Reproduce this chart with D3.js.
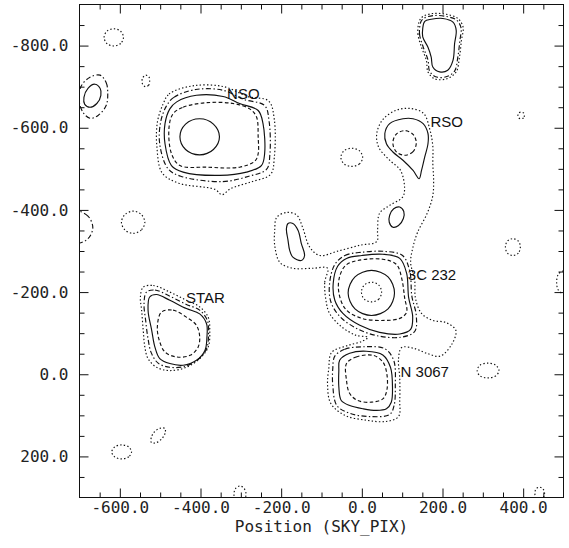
<!DOCTYPE html>
<html>
<head>
<meta charset="utf-8">
<script src="https://cdn.jsdelivr.net/npm/d3@7"></script>
<style>
  html, body { margin: 0; background: #fff; }
</style>
</head>
<body>
<svg id="chart" width="569" height="548"></svg>
<script>
// Sky-pixel extent of the map and its axis labelling
const xDomain = [-700, 500];
const yDomain = [-900, 300];
const xTickLabels = [-600, -400, -200, 0, 200, 400];
const yTickLabels = [-800, -600, -400, -200, 0, 200];
const xTitle = "Position (SKY_PIX)";

// Contour rings, [x, y] in sky pixels. Level 1 is the lowest contour.
// Large connected level-1 contour: RSO, filament, 3C 232 and N 3067
const bridgeL1 = [[-89,-180],[-92,-224],[-85,-258],[-122,-258],[-171,-258],[-203,-272],[-216,-314],[-216,-350],[-211,-382],[-186,-394],[-161,-387],[-147,-358],[-129,-309],[-104,-289],[-62,-299],[-5,-314],[37,-323],[39,-350],[44,-392],[69,-411],[101,-431],[106,-452],[96,-496],[69,-521],[42,-552],[37,-586],[52,-620],[84,-642],[119,-647],[153,-635],[168,-598],[176,-555],[176,-513],[178,-472],[176,-435],[163,-394],[138,-345],[126,-306],[121,-272],[131,-229],[133,-185],[148,-148],[176,-131],[208,-126],[233,-107],[223,-73],[194,-44],[161,-51],[129,-63],[99,-65],[91,-39],[94,10],[94,64],[91,103],[59,115],[12,112],[-42,100],[-77,71],[-85,27],[-82,-14],[-75,-53],[-35,-70],[0,-80],[15,-90],[-15,-95],[-52,-117],[-80,-148]];

// 3C 232
const c232L2 = [[-67,-267],[-42,-289],[0,-297],[57,-299],[101,-289],[119,-250],[124,-190],[135,-143],[131,-104],[96,-90],[42,-93],[-10,-110],[-55,-141],[-77,-177],[-80,-221]];
const c232L3 = [[-60,-263],[-38,-282],[0,-289],[52,-292],[94,-282],[111,-246],[116,-187],[126,-141],[121,-109],[94,-98],[44,-102],[-5,-119],[-47,-148],[-67,-180],[-71,-221]];
const c232L4 = [[-40,-265],[-10,-277],[52,-280],[86,-267],[99,-233],[106,-187],[111,-151],[94,-136],[57,-131],[0,-136],[-40,-158],[-57,-199],[-55,-238]];
const c232L5 = [[81,-198],[65,-159],[24,-143],[-17,-159],[-34,-198],[-17,-237],[24,-253],[65,-237]];
const c232L6 = [[49,-200],[42,-183],[24,-176],[6,-183],[-1,-200],[6,-217],[24,-224],[42,-217]];

// Knots along the filament
const knotWestL3 = [[-183,-367],[-171,-367],[-158,-350],[-150,-318],[-142,-289],[-150,-277],[-171,-285],[-179,-302],[-183,-326],[-187,-354]];
const knotNorthL3 = [[94,-407],[104,-396],[103,-379],[91,-362],[77,-358],[68,-370],[69,-387],[79,-403]];

// RSO
const rsoL3 = [[102,-622],[69,-610],[57,-586],[61,-561],[77,-541],[102,-521],[127,-496],[142,-476],[148,-496],[156,-529],[164,-561],[164,-586],[152,-610],[127,-622]];
const rsoL4 = [[135,-563],[127,-542],[106,-533],[85,-542],[77,-563],[85,-584],[106,-593],[127,-584]];

// N 3067
const n3067L2 = [[-67,-44],[-42,-61],[7,-67],[57,-62],[79,-34],[83,27],[80,76],[69,98],[20,103],[-30,95],[-62,76],[-72,27],[-72,-14]];
const n3067L3 = [[-55,-34],[-30,-51],[11,-56],[52,-47],[71,-17],[76,31],[73,68],[61,84],[36,88],[3,84],[-30,76],[-51,64],[-57,31],[-57,-9]];
const n3067L4 = [[-38,-26],[-14,-42],[28,-46],[52,-30],[62,-1],[62,39],[52,60],[24,68],[-10,64],[-30,47],[-38,15]];

// NSO
const nsoL1 = [[-493,-657],[-478,-682],[-419,-702],[-342,-700],[-283,-676],[-231,-665],[-217,-620],[-217,-528],[-226,-487],[-275,-468],[-325,-452],[-347,-437],[-364,-450],[-454,-465],[-495,-490],[-508,-552],[-507,-613]];
const nsoL2 = [[-485,-652],[-466,-674],[-412,-693],[-343,-691],[-293,-669],[-241,-654],[-230,-616],[-228,-535],[-236,-499],[-280,-482],[-345,-469],[-449,-482],[-481,-501],[-501,-560],[-499,-613]];
const nsoL3 = [[-476,-646],[-459,-663],[-410,-679],[-344,-676],[-303,-659],[-257,-642],[-245,-610],[-241,-537],[-249,-508],[-286,-492],[-352,-484],[-443,-492],[-472,-508],[-488,-561],[-488,-610]];
const nsoL4 = [[-468,-634],[-443,-650],[-385,-661],[-319,-659],[-278,-646],[-261,-626],[-257,-577],[-257,-537],[-265,-519],[-303,-504],[-385,-504],[-451,-508],[-472,-537],[-478,-601]];
const nsoL5 = [[-353,-578],[-368,-547],[-402,-534],[-437,-547],[-451,-578],[-437,-609],[-402,-622],[-368,-609]];

// STAR
const starL1 = [[-542,-212],[-517,-216],[-476,-200],[-435,-180],[-402,-164],[-381,-139],[-377,-107],[-381,-66],[-402,-38],[-435,-17],[-476,-9],[-509,-17],[-530,-38],[-538,-66],[-542,-107],[-546,-156],[-549,-188]];
const starL2 = [[-534,-200],[-513,-205],[-476,-190],[-435,-170],[-402,-156],[-383,-131],[-380,-99],[-385,-62],[-406,-36],[-439,-19],[-476,-17],[-505,-27],[-522,-52],[-530,-86],[-536,-131],[-540,-172]];
const starL3 = [[-526,-188],[-509,-194],[-476,-180],[-435,-160],[-402,-147],[-385,-123],[-384,-91],[-389,-58],[-410,-34],[-443,-22],[-476,-26],[-501,-38],[-513,-66],[-521,-107],[-530,-156]];
const starL4 = [[-497,-151],[-468,-156],[-435,-139],[-410,-119],[-402,-91],[-406,-66],[-426,-46],[-459,-42],[-488,-54],[-502,-82],[-507,-115]];

// Northern source at the top edge
const northL1 = [[143,-861],[139,-829],[148,-796],[160,-764],[164,-736],[181,-719],[210,-719],[234,-736],[242,-772],[247,-813],[251,-845],[238,-866],[210,-876],[176,-878],[152,-871]];
const northL2 = [[147,-859],[143,-829],[152,-797],[164,-765],[168,-738],[183,-724],[209,-724],[230,-738],[238,-772],[243,-812],[246,-843],[235,-862],[209,-871],[177,-873],[155,-867]];
const northL3 = [[172,-864],[156,-859],[151,-842],[151,-821],[164,-796],[172,-772],[176,-748],[193,-736],[213,-740],[226,-764],[230,-805],[234,-837],[226,-857],[201,-866]];

// Western edge source
const westL2 = [[-649,-728],[-634,-710],[-630,-686],[-634,-654],[-654,-630],[-674,-623],[-691,-637],[-701,-667],[-696,-701],[-674,-723]];
const westL3 = [[-662,-706],[-649,-696],[-647,-679],[-657,-659],[-674,-650],[-687,-657],[-689,-674],[-679,-696]];

// Isolated faint features
const spotA = [[-591,-820],[-598,-805],[-615,-799],[-632,-805],[-639,-820],[-632,-835],[-615,-841],[-598,-835]];
const spotB = [[-526,-714],[-529,-703],[-537,-700],[-544,-707],[-544,-720],[-536,-728],[-528,-724]];
const spotC = [[-538,-370],[-547,-351],[-567,-343],[-587,-351],[-596,-370],[-587,-389],[-567,-397],[-547,-389]];
const spotEdgeW = [[-667,-357],[-679,-385],[-709,-398],[-739,-385],[-751,-357],[-739,-330],[-709,-318],[-679,-330]];
const spotD = [[-571,189],[-578,201],[-596,206],[-613,201],[-620,189],[-613,177],[-596,172],[-578,177]];
const spotE = [[-488,132],[-488,144],[-496,157],[-511,167],[-522,166],[-522,154],[-514,140],[-499,131]];
const spotEdgeS1 = [[-287,292],[-292,306],[-302,312],[-313,306],[-317,292],[-313,278],[-302,272],[-292,278]];
const spotEdgeS2 = [[453,290],[449,301],[441,305],[432,301],[429,290],[432,279],[441,275],[449,279]];
const spotF = [[393,-310],[388,-295],[374,-289],[361,-295],[356,-310],[361,-324],[374,-330],[388,-324]];
const spotG = [[340,-9],[332,4],[313,9],[293,4],[286,-9],[293,-22],[313,-27],[332,-22]];
const spotEdgeE = [[513,-224],[509,-205],[498,-197],[487,-205],[483,-224],[487,-243],[498,-251],[509,-243]];
const spotH = [[403,-630],[401,-624],[395,-622],[389,-624],[387,-630],[389,-636],[395,-638],[401,-636]];
const spotI = [[2,-528],[-6,-512],[-25,-506],[-44,-512],[-52,-528],[-44,-544],[-25,-550],[-6,-544]];

// Source names and where they are written
const sourceNames = ["NSO", "RSO", "3C 232", "STAR", "N 3067"];
const sourceX = [-334, 170, 114, -436, 96];
const sourceY = [-671, -603, -230, -174, 7];

// ring list: [points, contour level]
const rings = [
  [bridgeL1, 1], [c232L2, 2], [c232L3, 3], [c232L4, 4], [c232L5, 5], [c232L6, 6],
  [knotWestL3, 3], [knotNorthL3, 3], [rsoL3, 3], [rsoL4, 4],
  [n3067L2, 2], [n3067L3, 3], [n3067L4, 4],
  [nsoL1, 1], [nsoL2, 2], [nsoL3, 3], [nsoL4, 4], [nsoL5, 5],
  [starL1, 1], [starL2, 2], [starL3, 3], [starL4, 4],
  [northL1, 1], [northL2, 2], [northL3, 3],
  [westL2, 2], [westL3, 3],
  [spotA, 1], [spotB, 1], [spotC, 1], [spotEdgeW, 2], [spotD, 1], [spotE, 1],
  [spotEdgeS1, 1], [spotEdgeS2, 1], [spotF, 1], [spotG, 1], [spotEdgeE, 1], [spotH, 1], [spotI, 1]
];

// line style for each contour level
const levelDash = { 1: "1.4,2.2", 2: "5,2.4,1.4,2.4", 3: null, 4: "3.6,2.4", 5: null, 6: "1.4,2.2" };

const svg = d3.select("#chart");
const x = d3.scaleLinear().domain(xDomain).range([79.5, 563.5]);
const y = d3.scaleLinear().domain(yDomain).range([4.5, 497.5]);

const plotBottom = y(yDomain[1]), plotTop = y(yDomain[0]);
const plotLeft = x(xDomain[0]), plotRight = x(xDomain[1]);

svg.append("defs").append("clipPath").attr("id", "plotClip")
  .append("rect")
  .attr("x", plotLeft).attr("y", plotTop)
  .attr("width", plotRight - plotLeft)
  .attr("height", plotBottom - plotTop);

const ringLine = d3.line()
  .x(d => x(d[0]))
  .y(d => y(d[1]))
  .curve(d3.curveCatmullRomClosed.alpha(0.5));

svg.append("g").attr("clip-path", "url(#plotClip)")
  .selectAll("path")
  .data(rings)
  .join("path")
  .attr("d", d => ringLine(d[0]))
  .attr("fill", "none")
  .attr("stroke", "#111")
  .attr("stroke-width", 1.15)
  .attr("stroke-linejoin", "round")
  .attr("stroke-dasharray", d => levelDash[d[1]]);

// axes: ticks point into the map, minor ticks every 50 pixels
const minorX = d3.range(xDomain[0] + 50, xDomain[1], 50).filter(v => !xTickLabels.includes(v));
const minorY = d3.range(yDomain[0] + 50, yDomain[1], 50).filter(v => !yTickLabels.includes(v));
const fmt = d => d.toFixed(1);
const tickFont = "'DejaVu Sans Mono', monospace";

function styleAxis(g) {
  g.select(".domain").remove();
  g.selectAll("line").attr("stroke", "#111");
  g.attr("font-family", tickFont).attr("font-size", 16);
  g.selectAll("text").attr("fill", "#222");
}

svg.append("g").attr("transform", `translate(0,${plotBottom})`)
  .call(d3.axisBottom(x).tickValues(xTickLabels).tickSize(-9).tickPadding(4).tickFormat(fmt))
  .call(styleAxis);
svg.append("g").attr("transform", `translate(0,${plotBottom})`)
  .call(d3.axisBottom(x).tickValues(minorX).tickSize(-5).tickFormat(""))
  .call(styleAxis);
svg.append("g").attr("transform", `translate(0,${plotTop})`)
  .call(d3.axisTop(x).tickValues(xTickLabels).tickSize(-9).tickFormat(""))
  .call(styleAxis);
svg.append("g").attr("transform", `translate(0,${plotTop})`)
  .call(d3.axisTop(x).tickValues(minorX).tickSize(-5).tickFormat(""))
  .call(styleAxis);

svg.append("g").attr("transform", `translate(${plotLeft},0)`)
  .call(d3.axisLeft(y).tickValues(yTickLabels).tickSize(-9).tickPadding(11).tickFormat(fmt))
  .call(styleAxis);
svg.append("g").attr("transform", `translate(${plotLeft},0)`)
  .call(d3.axisLeft(y).tickValues(minorY).tickSize(-5).tickFormat(""))
  .call(styleAxis);
svg.append("g").attr("transform", `translate(${plotRight},0)`)
  .call(d3.axisRight(y).tickValues(yTickLabels).tickSize(-9).tickFormat(""))
  .call(styleAxis);
svg.append("g").attr("transform", `translate(${plotRight},0)`)
  .call(d3.axisRight(y).tickValues(minorY).tickSize(-5).tickFormat(""))
  .call(styleAxis);

// frame
svg.append("rect")
  .attr("x", plotLeft).attr("y", plotTop)
  .attr("width", plotRight - plotLeft).attr("height", plotBottom - plotTop)
  .attr("fill", "none").attr("stroke", "#111").attr("stroke-width", 1);

// source names
svg.append("g").selectAll("text")
  .data(sourceNames)
  .join("text")
  .attr("x", (d, i) => x(sourceX[i]))
  .attr("y", (d, i) => y(sourceY[i]))
  .attr("font-family", "'Liberation Sans', Arial, sans-serif")
  .attr("font-size", 15)
  .attr("fill", "#111")
  .text(d => d);

// axis title
svg.append("text")
  .attr("x", (plotLeft + plotRight) / 2)
  .attr("y", 532)
  .attr("text-anchor", "middle")
  .attr("font-family", tickFont)
  .attr("font-size", 16)
  .attr("fill", "#222")
  .text(xTitle);
</script>
</body>
</html>
